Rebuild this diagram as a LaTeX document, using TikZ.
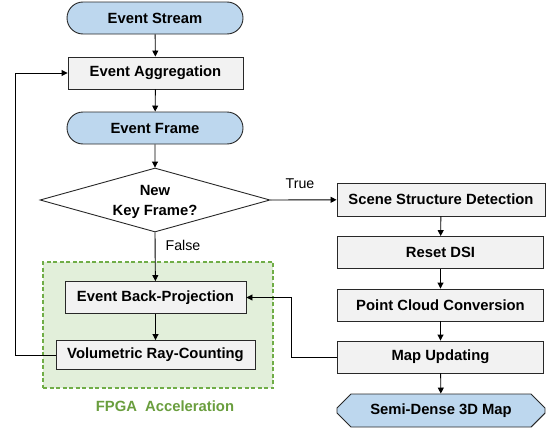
\documentclass[tikz,border=0pt]{standalone}
\usepackage{fontspec}
\setmainfont{Liberation Sans}
\usetikzlibrary{shapes.geometric,shapes.misc,arrows.meta}
\definecolor{bluefill}{RGB}{189,215,238}
\definecolor{grayfill}{RGB}{242,242,242}
\definecolor{greenfill}{RGB}{226,239,218}
\definecolor{greenline}{RGB}{112,173,71}
\definecolor{greentext}{RGB}{106,158,62}
\definecolor{lineclr}{RGB}{40,40,40}
\tikzset{
  base/.style={draw=lineclr, line width=0.9pt, font=\bfseries\fontsize{14.8}{16}\selectfont, align=center, inner sep=0pt},
  pill/.style={base, rounded rectangle, fill=bluefill, minimum width=176pt, minimum height=32pt},
  procbox/.style={base, rectangle, fill=grayfill, minimum height=32pt},
  decision/.style={draw=lineclr, line width=0.9pt, diamond, fill=white, inner sep=0pt, minimum width=230pt, minimum height=64pt},
  mapbox/.style={base, chamfered rectangle, chamfered rectangle xsep=7pt, chamfered rectangle ysep=7pt, fill=bluefill, minimum width=208pt, minimum height=33pt},
  conn/.style={draw=black, line width=0.9pt, -{Triangle[length=6pt,width=6pt]}},
  lbl/.style={font=\fontsize{14.2}{16}\selectfont}
}
\begin{document}
\begin{tikzpicture}[x=1pt,y=-1pt]
\useasboundingbox (0,0) rectangle (546,431);
% green region
\node[draw=greenline, fill=greenfill, dashed, dash pattern=on 4pt off 2.5pt, line width=1.3pt, minimum width=230pt, minimum height=126pt, inner sep=0pt] (fpga) at (158,325) {};
\node[font=\bfseries\fontsize{14.8}{16}\selectfont, text=greentext] (fpgalbl) at (165,406) {FPGA\ \ Acceleration};

\node[pill] (stream) at (155,18) {Event Stream};
\node[procbox, minimum width=175pt] (agg) at (155.5,73) {Event Aggregation};
\node[pill] (frame) at (155,128) {Event Frame};
\node[decision] (dec) at (155,200) {};
\node[font=\bfseries\fontsize{14.8}{20}\selectfont, align=center] (dectxt) at (155,202) {New\\Key Frame?};

\node[procbox, minimum width=181pt] (bp) at (155.5,297.5) {Event Back-Projection};
\node[procbox, minimum width=199pt, minimum height=29pt] (vrc) at (155.5,355) {Volumetric Ray-Counting};

\node[procbox, minimum width=208pt, minimum height=33pt] (ssd) at (441,199.5) {Scene Structure Detection};
\node[procbox, minimum width=206pt] (rst) at (440.5,252.5) {Reset DSI};
\node[procbox, minimum width=206pt] (pcc) at (440.5,305) {Point Cloud Conversion};
\node[procbox, minimum width=206pt] (mu) at (440.5,357) {Map Updating};
\node[mapbox] (map) at (441,410.5) {Semi-Dense 3D Map};

% connectors
\draw[conn] (stream) -- (agg);
\draw[conn] (agg) -- (frame);
\draw[conn] (frame) -- (dec.north);
\draw[conn] (dec.south) -- (bp);
\draw[conn] (bp) -- (vrc);
\draw[conn] (dec.east) -- (ssd);
\draw[conn] (ssd) -- (rst);
\draw[conn] (rst) -- (pcc);
\draw[conn] (pcc) -- (mu);
\draw[conn] (mu) -- (map);
\coordinate (fb1) at (15,355);
\coordinate (fb2) at (15,73);
\draw[conn] (vrc.west) -- (fb1) -- (fb2) -- (agg.west);
\coordinate (mb1) at (291,357);
\coordinate (mb2) at (291,297.5);
\draw[conn] (mu.west) -- (mb1) -- (mb2) -- (bp.east);

\node[lbl] (truelbl) at (300,184) {True};
\node[lbl] (falselbl) at (183,245) {False};
\end{tikzpicture}
\end{document}
